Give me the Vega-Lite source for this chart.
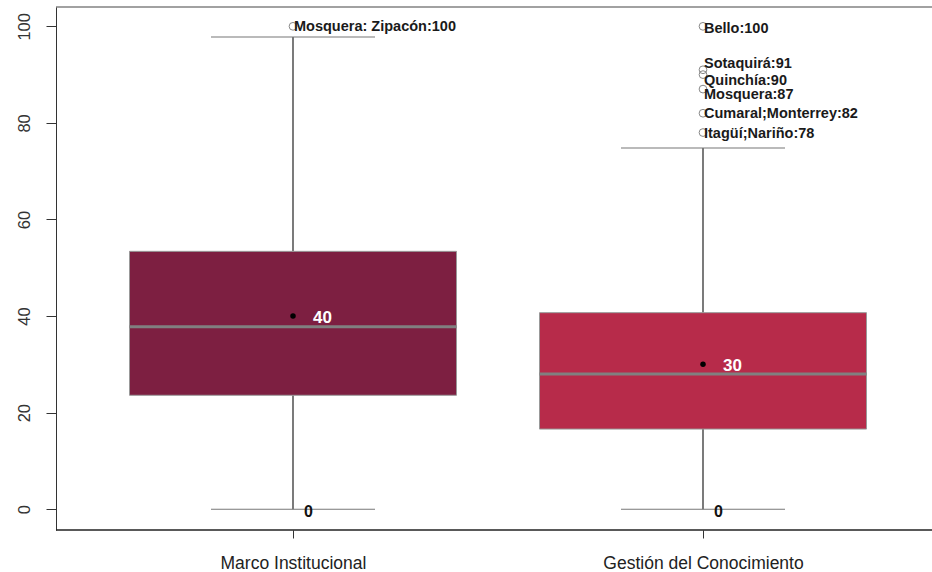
{
  "$schema": "https://vega.github.io/schema/vega-lite/v6.json",
  "autosize": {"type": "none"},
  "width": 876,
  "height": 523,
  "padding": {"left": 56, "top": 7, "right": 0, "bottom": 42},
  "background": "white",
  "config": {
    "view": {"stroke": null},
    "font": "Liberation Sans",
    "axis": {"labelFont": "Liberation Sans", "grid": false, "title": null}
  },
  "datasets": {
    "boxes": [
      {"dimension": "Marco Institucional", "lower": 0, "q1": 23.6, "median": 37.8, "q3": 53.4, "upper": 97.8, "mean": 40},
      {"dimension": "Gestión del Conocimiento", "lower": 0, "q1": 16.6, "median": 28, "q3": 40.7, "upper": 74.8, "mean": 30}
    ],
    "outliers": [
      {"dimension": "Marco Institucional", "value": 100, "label": "Mosquera: Zipacón:100"},
      {"dimension": "Gestión del Conocimiento", "value": 100, "label": "Bello:100"},
      {"dimension": "Gestión del Conocimiento", "value": 91, "label": "Sotaquirá:91"},
      {"dimension": "Gestión del Conocimiento", "value": 90, "label": "Quinchía:90"},
      {"dimension": "Gestión del Conocimiento", "value": 87, "label": "Mosquera:87"},
      {"dimension": "Gestión del Conocimiento", "value": 82, "label": "Cumaral;Monterrey:82"},
      {"dimension": "Gestión del Conocimiento", "value": 78, "label": "Itagüí;Nariño:78"}
    ]
  },
  "layer": [
    {
      "encoding": {
        "x": {
          "field": "dimension",
          "type": "nominal",
          "sort": ["Marco Institucional", "Gestión del Conocimiento"],
          "scale": {"type": "point", "domain": ["Marco Institucional", "Gestión del Conocimiento"], "range": [237, 647], "padding": 0},
          "axis": {"domain": false, "ticks": true, "tickSize": 8, "tickColor": "#333", "labelFontSize": 17.5, "labelColor": "#222", "labelPadding": 16, "labelAngle": 0, "labelLimit": 0}
        }
      },
      "layer": [
        {
          "data": {"name": "boxes"},
          "mark": {"type": "rule", "color": "#222", "strokeWidth": 1.2},
          "encoding": {
            "y": {"field": "q3", "type": "quantitative", "scale": {"domain": [-4.3, 104.0], "nice": false, "zero": false},
              "axis": {"values": [0, 20, 40, 60, 80, 100], "tickSize": 10, "tickColor": "#333", "domainColor": "#333", "labelFontSize": 16.5, "labelColor": "#333", "labelAngle": 270, "labelAlign": "center", "labelBaseline": "bottom", "labelPadding": 14}},
            "y2": {"field": "upper"}
          }
        },
        {
          "data": {"name": "boxes"},
          "mark": {"type": "rule", "color": "#222", "strokeWidth": 1.2},
          "encoding": {"y": {"field": "lower", "type": "quantitative"}, "y2": {"field": "q1"}}
        },
        {
          "data": {"name": "boxes"},
          "mark": {"type": "tick", "size": 164, "thickness": 1, "color": "#777", "opacity": 1},
          "encoding": {"y": {"field": "upper", "type": "quantitative"}}
        },
        {
          "data": {"name": "boxes"},
          "mark": {"type": "tick", "size": 164, "thickness": 1, "color": "#777", "opacity": 1},
          "encoding": {"y": {"field": "lower", "type": "quantitative"}}
        },
        {
          "data": {"name": "boxes"},
          "mark": {"type": "bar", "width": 327, "stroke": "#999", "strokeWidth": 1},
          "encoding": {
            "y": {"field": "q1", "type": "quantitative"},
            "y2": {"field": "q3"},
            "color": {"field": "dimension", "type": "nominal", "legend": null,
              "scale": {"domain": ["Marco Institucional", "Gestión del Conocimiento"], "range": ["#7d1f41", "#b72b4a"]}}
          }
        },
        {
          "data": {"name": "boxes"},
          "mark": {"type": "tick", "size": 327, "thickness": 3, "color": "#808080", "opacity": 1},
          "encoding": {"y": {"field": "median", "type": "quantitative"}}
        },
        {
          "data": {"name": "boxes"},
          "mark": {"type": "point", "shape": "circle", "filled": true, "size": 30, "color": "#000", "opacity": 1},
          "encoding": {"y": {"field": "mean", "type": "quantitative"}}
        },
        {
          "data": {"name": "boxes"},
          "mark": {"type": "text", "align": "left", "baseline": "middle", "dx": 20, "dy": 2, "fontSize": 17, "fontWeight": "bold", "color": "white"},
          "encoding": {"y": {"field": "mean", "type": "quantitative"}, "text": {"field": "mean", "type": "quantitative"}}
        },
        {
          "data": {"name": "boxes"},
          "mark": {"type": "text", "align": "left", "baseline": "middle", "dx": 11, "dy": 3, "fontSize": 16, "fontWeight": "bold", "color": "#111"},
          "encoding": {"y": {"field": "lower", "type": "quantitative"}, "text": {"field": "lower", "type": "quantitative"}}
        },
        {
          "data": {"name": "outliers"},
          "mark": {"type": "point", "shape": "circle", "filled": false, "size": 60, "stroke": "#888", "strokeWidth": 1, "opacity": 1},
          "encoding": {"y": {"field": "value", "type": "quantitative"}}
        },
        {
          "data": {"name": "outliers"},
          "mark": {"type": "text", "align": "left", "baseline": "middle", "dx": 1,
            "dy": {"expr": "datum.value == 91 ? -6 : datum.value == 90 ? 6 : datum.value == 87 ? 6 : datum.label == 'Bello:100' ? 3 : 1"},
            "fontSize": 14.5, "fontWeight": "bold", "color": "#1a1a1a"},
          "encoding": {"y": {"field": "value", "type": "quantitative"}, "text": {"field": "label"}}
        }
      ]
    },
    {
      "data": {"values": [{}]},
      "mark": {"type": "rule", "color": "#444", "strokeWidth": 1.2},
      "encoding": {"y": {"datum": 104.0, "type": "quantitative"}}
    },
    {
      "data": {"values": [{}]},
      "mark": {"type": "rule", "color": "#222", "strokeWidth": 1.5},
      "encoding": {"y": {"datum": -4.3, "type": "quantitative"}}
    }
  ]
}
